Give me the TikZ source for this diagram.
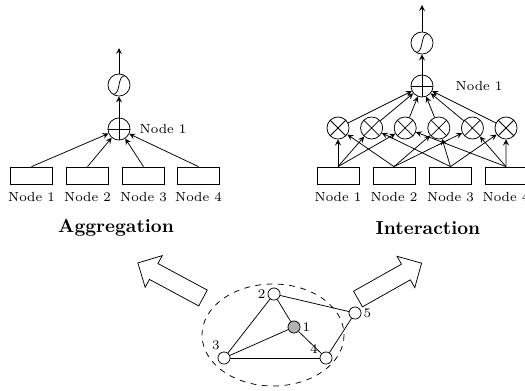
\documentclass[tikz,border=0pt]{standalone}
\usetikzlibrary{calc}
\tikzset{
	feat/.style={draw, minimum width=22.3pt, minimum height=9pt, inner sep=0pt,
		label={[font=\scriptsize, label distance=0.5pt]below:#1}},
	opnode/.style={circle, draw, minimum size=11.7pt, inner sep=0pt},
	sumop/.style={opnode, path picture={
		\draw (path picture bounding box.north) -- (path picture bounding box.south)
		      (path picture bounding box.west) -- (path picture bounding box.east);}},
	mulop/.style={opnode, path picture={
		\draw (path picture bounding box.north west) -- (path picture bounding box.south east)
		      (path picture bounding box.south west) -- (path picture bounding box.north east);}},
	sigop/.style={opnode, path picture={
		\draw ([shift={(-3.3pt,-5pt)}]path picture bounding box.center)
		      .. controls +(4.6pt,0pt) and +(-4.6pt,0pt) ..
		      ([shift={(3.3pt,5pt)}]path picture bounding box.center);}},
	gnode/.style={circle, draw, fill=white, minimum size=6.4pt, inner sep=0pt},
	glabel/.style={font=\scriptsize, inner sep=1pt}
}
\newcommand{\bigarrow}[4] % tail x, tail y, angle, length
{
	\draw[shift={(#1,#2)}, rotate=#3] (0,-9) -- ({#4-18},-9) -- ({#4-18},-18) -- (#4,0)
		-- ({#4-18},18) -- ({#4-18},9) -- (0,9) -- cycle;
}
\begin{document}
\begin{tikzpicture}[x=0.53pt, y=-0.53pt, >=stealth]
	% 525 x 390, coordinates in pixels
	\useasboundingbox (0,0) rectangle (525,390);

	% aggregation
	\foreach \i/\x in {1/31.5,2/87.5,3/143.5,4/198.5}
		\node[feat={Node \i}] (a\i) at (\x,175.5) {};
	\node[sumop, label={[font=\scriptsize, label distance=1.4pt]right:Node 1}] (asum) at (119,129) {};
	\node[sigop] (asig) at (119,85) {};
	\coordinate (aout) at (119,48);
	\foreach \i in {1,...,4}
		\draw[->] (a\i.north) -- (asum);
	\draw[->] (asum) -- (asig);
	\draw[->] (asig) -- (aout);
	\node[font=\bfseries] (tagg) at (116,228) {Aggregation};

	% interaction
	\foreach \i/\x in {1/338,2/394,3/450.5,4/506}
		\node[feat={Node \i}] (i\i) at (\x,175.5) {};
	\foreach \m in {1,...,6}
		\node[mulop] (m\m) at ({338+(\m-1)*33.6},128) {};
	\node[sumop, label={[font=\scriptsize, label distance=8.3pt]right:Node 1}] (isum) at (422,86) {};
	\node[sigop] (isig) at (422,43) {};
	\coordinate (iout) at (422,5);
	\foreach \m/\p/\q in {1/1/2,2/1/3,3/1/4,4/2/3,5/2/4,6/3/4}
	{
		\draw[->] (i\p.north) -- (m\m);
		\draw[->] (i\q.north) -- (m\m);
		\draw[->] (m\m) -- (isum);
	}
	\draw[->] (isum) -- (isig);
	\draw[->] (isig) -- (iout);
	\node[font=\bfseries] (tint) at (428,228) {Interaction};

	% graph
	\draw[dashed] (273,335) ellipse [x radius=71, y radius=51];
	\node[gnode, fill=gray!60, label={[glabel]right:1}] (g1) at (294,327) {};
	\node[gnode, label={[glabel]left:2}] (g2) at (274,294) {};
	\node[gnode, label={[glabel]110:3}] (g3) at (224,358) {};
	\node[gnode, label={[glabel]160:4}] (g4) at (326,358) {};
	\node[gnode, label={[glabel]right:5}] (g5) at (355,313) {};
	\draw (g2) -- (g3);
	\draw (g2) -- (g1);
	\draw (g2) -- (g5);
	\draw (g1) -- (g3);
	\draw (g1) -- (g4);
	\draw (g3) -- (g4);
	\draw (g4) -- (g5);

	% block arrows
	\bigarrow{203}{298}{151.7}{74};
	\bigarrow{358}{299}{29.4}{73};
\end{tikzpicture}
\end{document}
